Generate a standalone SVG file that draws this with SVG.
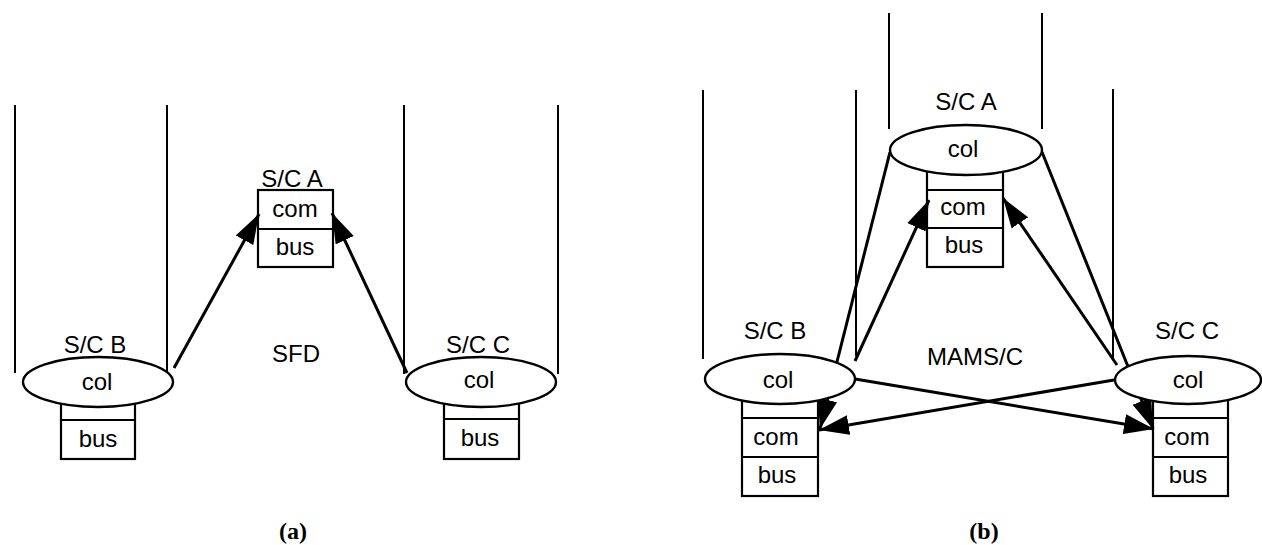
<svg xmlns="http://www.w3.org/2000/svg" width="1262" height="545" viewBox="0 0 1262 545">
  <style>
    .bg { fill: #ffffff; }
    .wall { stroke: #000; stroke-width: 2; fill: none; }
    .box { stroke: #000; stroke-width: 2.2; fill: none; }
    .col { stroke: #000; stroke-width: 2.4; fill: #ffffff; }
    .arrow { stroke: #000; stroke-width: 3; fill: none; marker-end: url(#head); }
    text { font-family: "Liberation Sans", Arial, sans-serif; font-size: 24px; fill: #000; text-anchor: middle; }
    .cap { font-family: "Liberation Serif", "Times New Roman", serif; font-weight: bold; font-size: 24px; }
  </style>
  <defs>
    <marker id="head" markerUnits="userSpaceOnUse" markerWidth="32" markerHeight="22" refX="30" refY="11" orient="auto">
      <path d="M0,1 L30,11 L0,21 z" fill="#000"/>
    </marker>
  </defs>
  <rect class="bg" x="0" y="0" width="1262" height="545"/>

  <!-- orbit walls -->
  <g id="walls">
    <line class="wall" x1="15" y1="105" x2="15" y2="373"/>
    <line class="wall" x1="167" y1="105" x2="167" y2="372"/>
    <line class="wall" x1="404" y1="105" x2="404" y2="374"/>
    <line class="wall" x1="558" y1="105" x2="558" y2="374"/>
    <line class="wall" x1="703" y1="90" x2="703" y2="359"/>
    <line class="wall" x1="856" y1="90" x2="856" y2="356"/>
    <line class="wall" x1="889" y1="13" x2="889" y2="129"/>
    <line class="wall" x1="1042" y1="13" x2="1042" y2="129"/>
    <line class="wall" x1="1113" y1="89" x2="1113" y2="358"/>
  </g>

  <!-- connectors -->
  <g id="connectors">
    <!-- (a) SFD -->
    <line class="arrow" x1="174" y1="368" x2="259" y2="214"/>
    <line class="arrow" x1="407" y1="373" x2="332" y2="213"/>
    <!-- (b) MAMS/C -->
    <line class="arrow" x1="890" y1="152" x2="820" y2="429"/>
    <line class="arrow" x1="1042" y1="152" x2="1153" y2="429"/>
    <line class="arrow" x1="855" y1="361" x2="929" y2="200"/>
    <line class="arrow" x1="1117" y1="365" x2="1003" y2="198"/>
    <line class="arrow" x1="855" y1="379" x2="1154" y2="429"/>
    <line class="arrow" x1="1114" y1="380" x2="819" y2="430"/>
  </g>

  <!-- (a) nodes -->
  <g id="a-sc-a">
    <rect class="box" x="258" y="190" width="75" height="77"/>
    <line class="box" x1="258" y1="229" x2="333" y2="229"/>
    <text x="292" y="187">S/C A</text>
    <text x="295" y="217">com</text>
    <text x="295" y="255">bus</text>
  </g>
  <g id="a-sc-b">
    <rect class="box" x="61" y="395" width="74" height="64"/>
    <line class="box" x1="61" y1="420" x2="135" y2="420"/>
    <ellipse class="col" cx="98" cy="382" rx="75" ry="25"/>
    <text x="95" y="353">S/C B</text>
    <text x="97" y="390">col</text>
    <text x="98" y="447">bus</text>
  </g>
  <g id="a-sc-c">
    <rect class="box" x="444" y="395" width="75" height="64"/>
    <line class="box" x1="444" y1="419" x2="519" y2="419"/>
    <ellipse class="col" cx="481" cy="382" rx="75" ry="25"/>
    <text x="478" y="353">S/C C</text>
    <text x="479" y="388">col</text>
    <text x="480" y="446">bus</text>
  </g>
  <text id="label-sfd" x="296" y="362">SFD</text>
  <text id="caption-a" class="cap" x="293" y="539">(a)</text>

  <!-- (b) nodes -->
  <g id="b-sc-a">
    <rect class="box" x="927" y="160" width="76" height="107"/>
    <line class="box" x1="927" y1="190" x2="1003" y2="190"/>
    <line class="box" x1="927" y1="228" x2="1003" y2="228"/>
    <ellipse class="col" cx="966" cy="150" rx="76" ry="25"/>
    <text x="966" y="110">S/C A</text>
    <text x="963" y="157">col</text>
    <text x="963" y="215">com</text>
    <text x="964" y="253">bus</text>
  </g>
  <g id="b-sc-b">
    <rect class="box" x="742" y="395" width="76" height="101"/>
    <line class="box" x1="742" y1="418" x2="818" y2="418"/>
    <line class="box" x1="742" y1="457" x2="818" y2="457"/>
    <ellipse class="col" cx="780" cy="379" rx="75" ry="25"/>
    <text x="775" y="339">S/C B</text>
    <text x="778" y="388">col</text>
    <text x="776" y="445">com</text>
    <text x="777" y="483">bus</text>
  </g>
  <g id="b-sc-c">
    <rect class="box" x="1153" y="395" width="75" height="101"/>
    <line class="box" x1="1153" y1="418" x2="1228" y2="418"/>
    <line class="box" x1="1153" y1="457" x2="1228" y2="457"/>
    <ellipse class="col" cx="1188" cy="380" rx="73" ry="24"/>
    <text x="1187" y="339">S/C C</text>
    <text x="1188" y="388">col</text>
    <text x="1187" y="445">com</text>
    <text x="1188" y="483">bus</text>
  </g>
  <text id="label-mams" x="975" y="365">MAMS/C</text>
  <text id="caption-b" class="cap" x="984" y="539">(b)</text>
</svg>
